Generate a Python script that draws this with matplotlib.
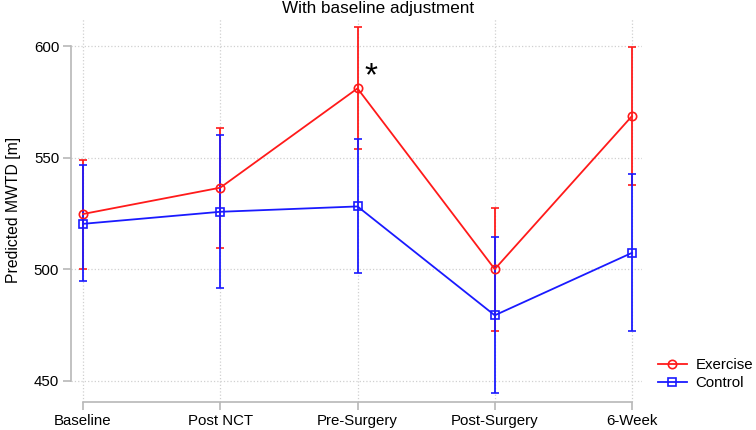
import matplotlib
matplotlib.use("Agg")
import matplotlib.pyplot as plt
from matplotlib.lines import Line2D
import numpy as np

categories = ["Baseline", "Post NCT", "Pre-Surgery", "Post-Surgery", "6-Week"]
exercise_mean = [524.7, 536.5, 581.0, 500.0, 568.6]
exercise_low = [500.0, 509.3, 553.9, 472.2, 537.7]
exercise_high = [549.0, 563.4, 608.4, 527.6, 599.5]
control_mean = [520.3, 525.7, 528.1, 479.3, 507.3]
control_low = [494.7, 491.6, 498.2, 444.3, 472.2]
control_high = [546.5, 559.9, 558.1, 514.6, 542.8]
yticks = [450, 500, 550, 600]

plt.rcParams['font.family'] = ['Liberation Sans', 'DejaVu Sans']

W, H = 756, 430
fig = plt.figure(figsize=(W / 100, H / 100), dpi=100)
left_px, right_px, top_px, bot_px = 71, 642, 18, 402
ax = fig.add_axes([left_px / W, 1 - bot_px / H, (right_px - left_px) / W, (bot_px - top_px) / H])

x = np.arange(len(categories))
step = (632 - 83) / 4
ax.set_xlim(-(83 - left_px) / step, 4 + (right_px - 632) / step)
ppu = (380.7 - 46) / 150
ax.set_ylim(600 - (bot_px - 46) / ppu, 600 + (46 - top_px) / ppu)

red = "#ff1a1a"
blue = "#1a1aff"

def draw(mean, low, high, color, marker):
    mean = np.array(mean); low = np.array(low); high = np.array(high)
    ax.errorbar(x, mean, yerr=[mean - low, high - mean], color=color, lw=1.3,
                elinewidth=1.3, capsize=3, capthick=1.3, marker=marker, ms=6,
                mfc="none", mec=color, mew=1.2)

draw(exercise_mean, exercise_low, exercise_high, red, "o")
draw(control_mean, control_low, control_high, blue, "s")

ax.text(2.1, 586, "*", fontsize=24, ha="center", va="center", color="black")

ax.set_xticks(x)
ax.set_xticklabels(categories, fontsize=10.8)
ax.set_yticks(yticks)
ax.set_yticklabels([str(v) for v in yticks], fontsize=10.8)
ax.grid(True, color="#d0d0d0", linestyle=":", linewidth=0.9)
ax.set_axisbelow(True)
for s in ["top", "right"]:
    ax.spines[s].set_visible(False)
for s in ["left", "bottom"]:
    ax.spines[s].set_color("#b8b8b8")
    ax.spines[s].set_linewidth(1.2)
ax.spines["left"].set_bounds(450, 600)
ax.spines["bottom"].set_bounds(0, 4)
ax.tick_params(axis="both", colors="#b8b8b8", length=5.5, width=1.2, labelcolor="black")
ax.tick_params(axis="x", pad=3)
ax.tick_params(axis="y", pad=3)
ax.set_ylabel("Predicted MWTD [m]", fontsize=11.3, labelpad=9)
fig.text(0.5, 1 - 9 / H, "With baseline adjustment", ha="center", va="center", fontsize=12.3)

handles = [Line2D([], [], color=red, lw=1.3, marker="o", ms=6, mfc="none", mew=1.2),
           Line2D([], [], color=blue, lw=1.3, marker="s", ms=6, mfc="none", mew=1.2)]
leg = ax.legend(handles, ["Exercise", "Control"], loc="center left",
                bbox_to_anchor=(658 / W, 1 - 374 / H), bbox_transform=fig.transFigure,
                frameon=False, fontsize=10.8, handlelength=1.9, handletextpad=0.6, labelspacing=0.3,
                borderaxespad=0, borderpad=0)
fig.savefig("out.png", dpi=100)
